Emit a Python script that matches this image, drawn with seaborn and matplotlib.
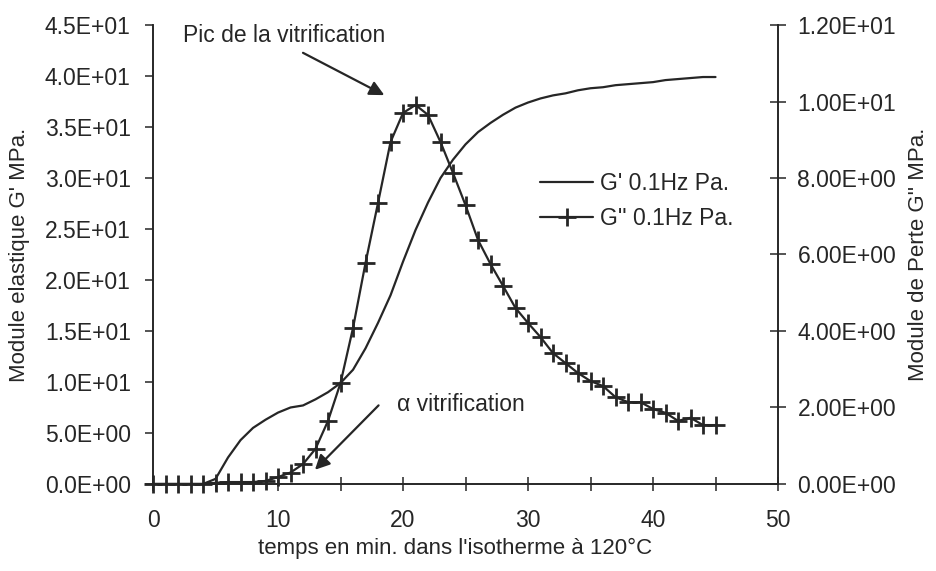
import numpy as np
import pandas as pd
import matplotlib
matplotlib.use('Agg')
import matplotlib.pyplot as plt
import seaborn as sns
from matplotlib.ticker import FuncFormatter

# data
temps = list(range(0, 46))
g_prime = [0, 0, 0, 0, 0, 0.5, 2.6, 4.3, 5.5, 6.3,
           7.0, 7.5, 7.7, 8.3, 9.0, 9.9, 11.2, 13.3, 15.8, 18.5,
           21.8, 24.9, 27.6, 30.0, 31.8, 33.3, 34.5, 35.4, 36.2, 36.9,
           37.4, 37.8, 38.1, 38.3, 38.6, 38.8, 38.9, 39.1, 39.2, 39.3,
           39.4, 39.6, 39.7, 39.8, 39.9, 39.9]
g_second = [0, 0, 0, 0, 0, 0.03, 0.05, 0.05, 0.05, 0.08,
            0.18, 0.30, 0.52, 0.92, 1.65, 2.64, 4.08, 5.78, 7.35, 8.94,
            9.70, 9.91, 9.65, 8.94, 8.13, 7.29, 6.38, 5.75, 5.18, 4.60,
            4.21, 3.84, 3.42, 3.16, 2.90, 2.69, 2.56, 2.27, 2.14, 2.14,
            1.96, 1.86, 1.65, 1.73, 1.54, 1.54]

left_ticks = [0, 5, 10, 15, 20, 25, 30, 35, 40, 45]
right_ticks = [0, 2, 4, 6, 8, 10, 12]
x_ticks = [0, 5, 10, 15, 20, 25, 30, 35, 40, 45, 50]

df = pd.DataFrame({'temps': temps, 'Gp': g_prime, 'Gs': g_second})

sns.set_theme(style='ticks')
plt.rcParams['font.family'] = ['Liberation Sans', 'DejaVu Sans']
ink = '#262626'

fig = plt.figure(figsize=(9.36, 5.71), dpi=100)
ax = fig.add_axes([0.1635, 0.1524, 0.6677, 0.8038])
ax2 = ax.twinx()

sns.lineplot(data=df, x='temps', y='Gp', ax=ax, color=ink, lw=1.6,
             label="G' 0.1Hz Pa.", legend=False, clip_on=False)
sns.lineplot(data=df, x='temps', y='Gs', ax=ax2, color=ink, lw=1.6,
             marker='+', markersize=13, markeredgewidth=2, markeredgecolor=ink,
             label="G'' 0.1Hz Pa.", legend=False, clip_on=False)

ax.set_xlim(0, 50)
ax.set_ylim(0, 45)
ax2.set_ylim(0, 12)

ax.set_xticks(x_ticks)
ax.set_xticklabels([str(t) if t % 10 == 0 else '' for t in x_ticks])
ax.set_yticks(left_ticks)
ax2.set_yticks(right_ticks)
ax.yaxis.set_major_formatter(FuncFormatter(lambda v, p: format(v, '.1E')))
ax2.yaxis.set_major_formatter(FuncFormatter(lambda v, p: format(v, '.2E')))

for a in (ax, ax2):
    a.spines['top'].set_visible(False)
    for s in a.spines.values():
        s.set_color(ink)
        s.set_linewidth(1.2)
ax.tick_params(axis='x', direction='inout', length=10, width=1.1, colors=ink,
               labelsize=16.5, pad=13)
ax.tick_params(axis='y', direction='out', length=6, width=1.1, colors=ink,
               labelsize=16.5, pad=10)
ax2.tick_params(axis='y', direction='inout', length=12, width=1.1, colors=ink,
                labelsize=16.5, pad=8)

ax.set_xlabel("temps en min. dans l'isotherme à 120°C", fontsize=16, color=ink)
ax.set_ylabel("Module elastique G' MPa.", fontsize=16, color=ink)
ax2.set_ylabel("Module de Perte G'' MPa.", fontsize=16, color=ink)
ax.xaxis.set_label_coords(0.483, -0.118)
ax.yaxis.set_label_coords(-0.197, 0.5)
ax2.yaxis.set_label_coords(1.208, 0.5)

# annotations
ax.text(2.4, 44.0, "Pic de la vitrification", fontsize=16.5, color=ink,
        ha='left', va='center')
ax.annotate('', xy=(18.7, 38.0), xytext=(11.8, 42.4),
            arrowprops=dict(arrowstyle='-|>', color=ink, lw=1.6, mutation_scale=22))
ax.text(19.5, 7.75, "α vitrification", fontsize=16.5, color=ink,
        ha='left', va='center')
ax.annotate('', xy=(12.8, 1.2), xytext=(18.2, 7.9),
            arrowprops=dict(arrowstyle='-|>', color=ink, lw=1.6, mutation_scale=22))

h1, l1 = ax.get_legend_handles_labels()
h2, l2 = ax2.get_legend_handles_labels()
ax2.legend(h1 + h2, l1 + l2, loc='upper left', bbox_to_anchor=(0.605, 0.70),
           frameon=False, fontsize=16.5, handlelength=2.3, handletextpad=0.3,
           labelspacing=0.55, borderaxespad=0)

fig.savefig('out.png', dpi=100)
